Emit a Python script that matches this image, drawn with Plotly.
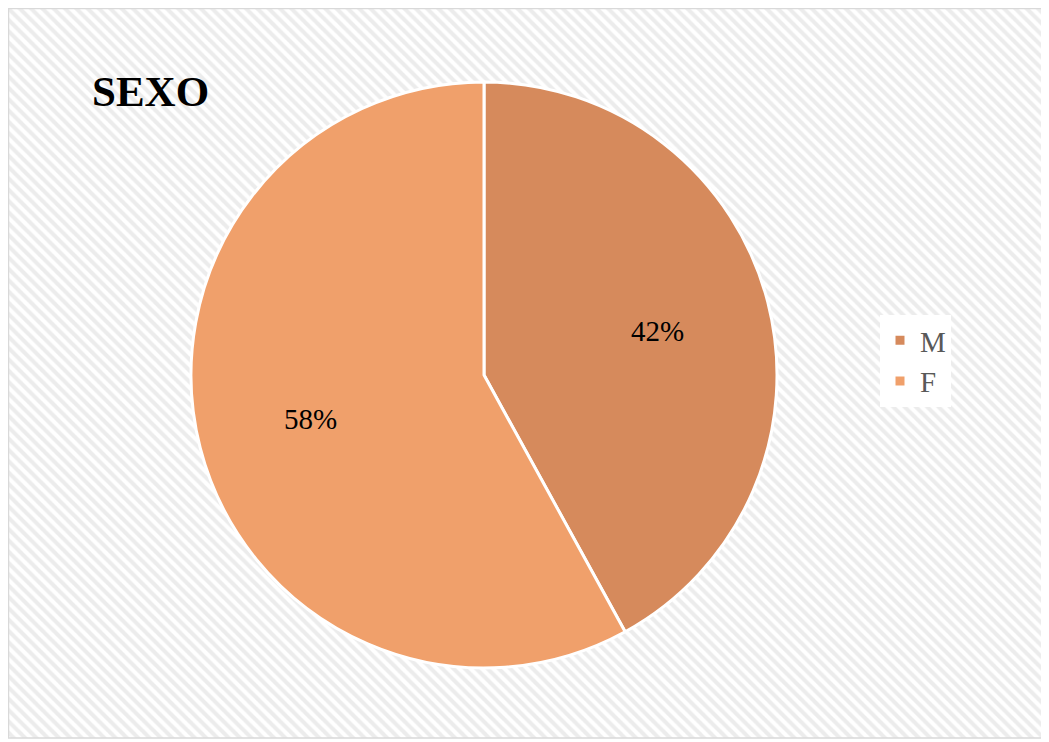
import numpy as np
import plotly.graph_objects as go

labels = ["M", "F"]
values = [42, 58]
colors = ["#d68a5c", "#f0a06b"]

# page body adds an 8px margin, so the figure is sized to fit the window
W, H = 1041, 734
OFF = 8
serif = "Liberation Serif, Times New Roman, serif"

cx, cy, r = 484 - OFF, 375 - OFF, 293

fig = go.Figure()

# striped chart-area background
fig.add_trace(go.Scatter(
    x=[0, 1035, 1035, 0, 0], y=[0, 0, 730, 730, 0],
    mode="lines", line=dict(width=0), fill="toself",
    fillcolor="white",
    fillpattern=dict(shape="\\", size=8, solidity=0.5, fgcolor="#d9d9d9", bgcolor="white"),
    hoverinfo="skip", showlegend=False,
))

fig.add_trace(go.Pie(
    labels=labels, values=values, sort=False, direction="clockwise", rotation=0,
    marker=dict(colors=colors, line=dict(color="white", width=3)),
    textinfo="none",
    domain=dict(x=[(cx - r) / W, (cx + r) / W], y=[(H - cy - r) / H, (H - cy + r) / H]),
    hoverinfo="skip",
))

# percentage labels placed along each slice's mid-angle
vals = np.array(values, dtype=float)
frac = vals / vals.sum()
mid = (np.cumsum(frac) - frac / 2) * 2 * np.pi
for f, a in zip(frac, mid):
    fig.add_annotation(x=cx + 0.61 * r * np.sin(a), y=cy - 0.61 * r * np.cos(a),
                       xref="x", yref="y", text=f"{f * 100:.0f}%", showarrow=False,
                       font=dict(family=serif, size=29, color="black"))

fig.add_shape(type="rect", xref="x", yref="y", x0=0.5, x1=1035, y0=0.5, y1=730,
              line=dict(color="#d9d9d9", width=1.5))

fig.update_layout(
    width=W, height=H, margin=dict(l=0, r=0, t=0, b=0),
    paper_bgcolor="white", plot_bgcolor="white",
    xaxis=dict(range=[0, W], visible=False, fixedrange=True),
    yaxis=dict(range=[H, 0], visible=False, fixedrange=True),
    title=dict(text="<b>SEXO</b>", x=(92 - OFF) / W, xanchor="left", y=1 - (91 - OFF) / H, yanchor="middle",
               font=dict(family=serif, size=43, color="black")),
    legend=dict(x=(880 - OFF) / W, xanchor="left", y=1 - (361 - OFF) / H, yanchor="middle",
                bgcolor="white", font=dict(family=serif, size=29, color="#595959")),
)

fig.write_html("out.html")
